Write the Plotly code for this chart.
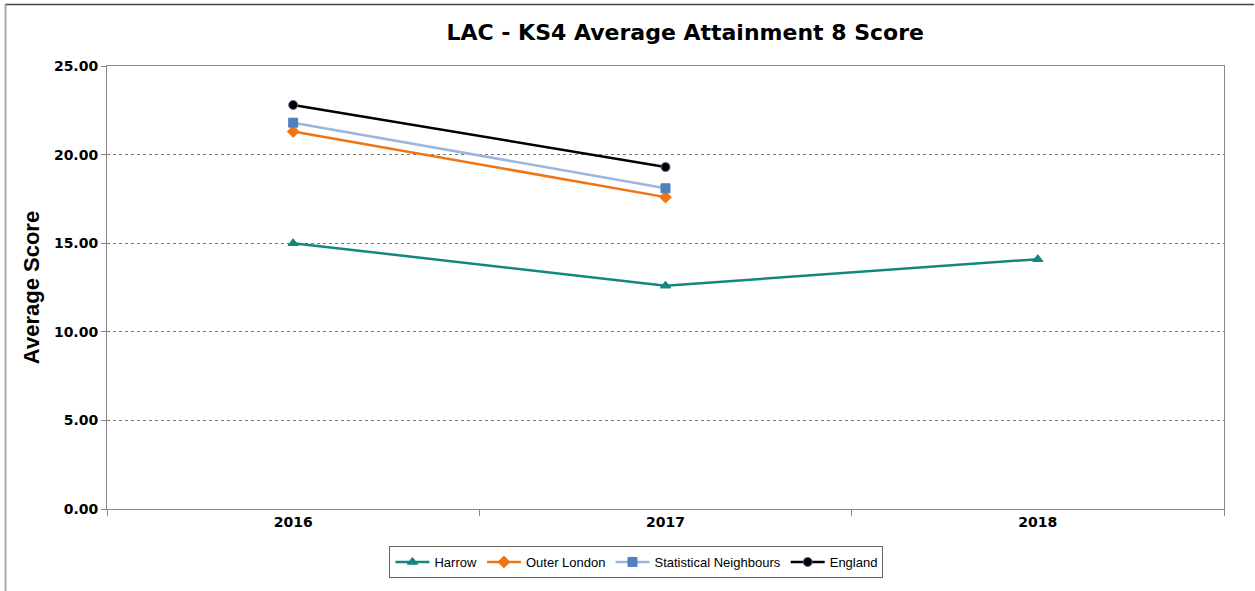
import plotly.graph_objects as go

years = ["2016", "2017", "2018"]
harrow = [15.0, 12.6, 14.1]
outer_london = [21.3, 17.6, None]
stat_neighbours = [21.8, 18.1, None]
england = [22.8, 19.3, None]

series = [
    ("Harrow", harrow, "#13877f", "triangle-up", 9),
    ("Outer London", outer_london, "#f07314", "diamond", 9),
    ("Statistical Neighbours", stat_neighbours, "#9ab6dc", "square", 9),
    ("England", england, "#000000", "circle", 9),
]

W, H = 1255, 591
L, R, T, B = 107, 31, 66, 82
pw, ph = W - L - R, H - T - B


def px_x(p):
    return (p - L) / pw


def px_y(p):
    return (H - B - p) / ph


fig = go.Figure()
for name, vals, col, sym, sz in series:
    mcol = "#4f81bd" if name == "Statistical Neighbours" else col
    fig.add_trace(go.Scatter(
        x=years, y=vals, name=name, mode="lines+markers",
        line=dict(color=col, width=2.5),
        marker=dict(symbol=sym, size=sz, color=mcol,
                    line=dict(color="#7a5ca0" if name == "England" else mcol, width=1)),
        connectgaps=False,
    ))

fig.update_layout(
    width=W, height=H,
    paper_bgcolor="white", plot_bgcolor="white",
    margin=dict(l=L, r=R, t=T, b=B),
    title=dict(text="LAC - KS4 Average Attainment 8 Score", x=0.546, xanchor="center",
               y=1 - 32 / H, yanchor="middle",
               font=dict(family="DejaVu Sans", size=22, color="black", weight="bold")),
    xaxis=dict(type="category", range=[-0.5, 2.5], showline=True, linecolor="#888888",
               linewidth=1, mirror=True, ticks="outside", tickson="boundaries",
               ticklen=6, tickcolor="#888888", showgrid=False,
               tickfont=dict(family="DejaVu Sans", size=14, color="black", weight="bold")),
    yaxis=dict(range=[0, 25], dtick=5, tickformat=".2f", showline=True,
               linecolor="#888888", linewidth=1, mirror=True, ticks="outside",
               ticklen=5, tickcolor="#888888",
               showgrid=True, gridcolor="#777777", griddash="dot", gridwidth=1,
               zeroline=False,
               tickfont=dict(family="DejaVu Sans", size=14, color="black", weight="bold"),
               title=dict(text="Average Score", standoff=8,
                          font=dict(family="Liberation Sans", size=22, color="black",
                                    weight="bold"))),
    legend=dict(orientation="h", x=0.474, xanchor="center", y=px_y(546), yanchor="top",
                bordercolor="#666666", borderwidth=1,
                font=dict(family="Liberation Sans", size=13, color="black"),
                itemwidth=34, tracegroupgap=0),
    hovermode=False,
    shapes=[
        dict(type="line", xref="paper", yref="paper", x0=px_x(5), x1=px_x(1254),
             y0=px_y(4.5), y1=px_y(4.5), line=dict(color="#444444", width=1.5)),
        dict(type="line", xref="paper", yref="paper", x0=px_x(5.5), x1=px_x(5.5),
             y0=px_y(4.5), y1=px_y(595), line=dict(color="#aaaaaa", width=2)),
    ],
)

fig.write_html("out.html", config={"displayModeBar": False},
               post_script="document.body.style.margin='0';")
